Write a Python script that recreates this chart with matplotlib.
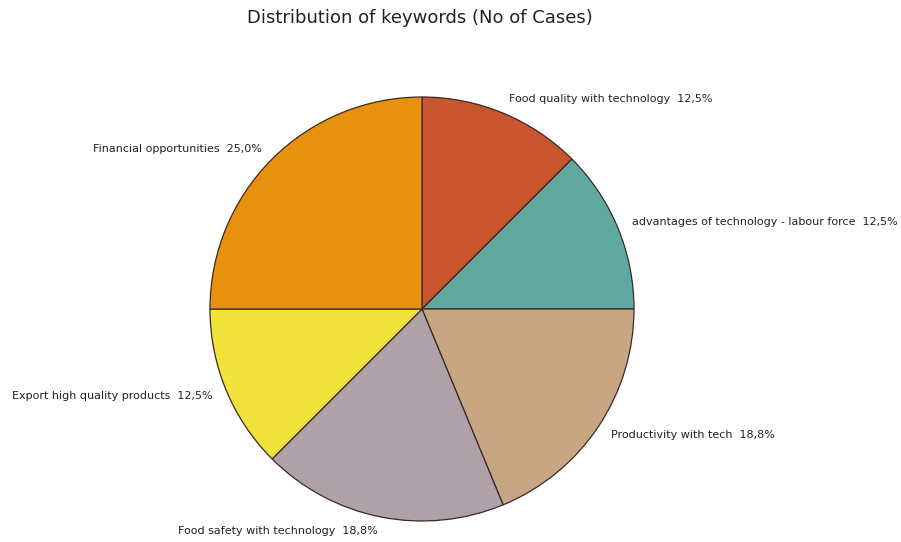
import matplotlib
matplotlib.use("Agg")
import matplotlib.pyplot as plt

# keyword counts (No of cases)
categories = [
    "Food quality with technology",
    "advantages of technology - labour force",
    "Productivity with tech",
    "Food safety with technology",
    "Export high quality products",
    "Financial opportunities",
]
cases = [2, 2, 3, 3, 2, 4]
colors = ["#C9552F", "#5FA9A1", "#C9A683", "#AEA1A8", "#F2E23C", "#E8910F"]

total = sum(cases)
labels = []
for name, n in zip(categories, cases):
    pct = format(100 * n / total, ".1f").replace(".", ",")
    labels.append(f"{name}  {pct}%")

fig = plt.figure(figsize=(9.01, 5.42), dpi=100)
ax = fig.add_axes([210 / 901, 21 / 542, 424 / 901, 424 / 542])

wedges, texts = ax.pie(
    cases,
    labels=labels,
    colors=colors,
    startangle=90,
    counterclock=False,
    labeldistance=1.07,
    wedgeprops=dict(edgecolor="#3b2a22", linewidth=0.9),
    textprops=dict(fontsize=8, color="#222222"),
)
ax.set_xlim(-1, 1)
ax.set_ylim(-1, 1)
ax.set_aspect("equal")

fig.text(0.466, 0.966, "Distribution of keywords (No of Cases)",
         ha="center", va="center", fontsize=13, color="#222222")

fig.savefig("out.png", dpi=100)
